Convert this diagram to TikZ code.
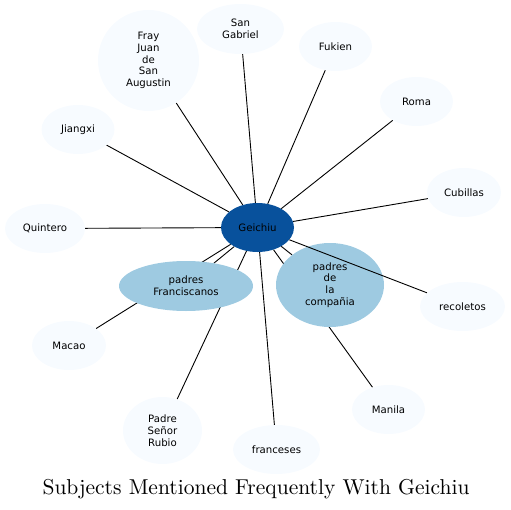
\documentclass[tikz,border=0pt]{standalone}
\usepackage{fontspec}
\newfontfamily\nodefont{DejaVu Sans}
\newfontfamily\titlefont{lmroman10-regular.otf}
\usetikzlibrary{shapes.geometric,backgrounds}

\definecolor{hubblue}{HTML}{08519C}
\definecolor{midblue}{HTML}{9ECAE1}
\definecolor{paleblue}{HTML}{F7FBFF}

\begin{document}
\begin{tikzpicture}[x=1bp, y=-1bp,
  subj/.style={ellipse, fill=#1, inner sep=0pt, align=center,
    font=\nodefont\fontsize{10.2}{11.8}\selectfont},
  link/.style={black, line width=0.9bp}]

\useasboundingbox (0,0) rectangle (510,510);

% centre and the two large groups
\node[subj=hubblue, minimum width=73bp, minimum height=49bp] (geichiu) at (257.5, 227.5) {Geichiu};
\node[subj=midblue, minimum width=134bp, minimum height=50bp] (franciscanos) at (186, 286) {padres\\Franciscanos};
\node[subj=midblue, minimum width=108bp, minimum height=84bp] (compania) at (330, 285) {padres\\de\\la\\compañia};

% outer ring
\node[subj=paleblue, minimum width=101bp, minimum height=101bp] (fray) at (148.5, 60.5) {Fray\\Juan\\de\\San\\Augustin};
\node[subj=paleblue, minimum width=87bp, minimum height=50bp] (gabriel) at (240.5, 29) {San\\Gabriel};
\node[subj=paleblue, minimum width=73bp, minimum height=49bp] (fukien) at (335.5, 46.5) {Fukien};
\node[subj=paleblue, minimum width=73bp, minimum height=49bp] (roma) at (416.5, 101.5) {Roma};
\node[subj=paleblue, minimum width=74bp, minimum height=49bp] (cubillas) at (464, 192.5) {Cubillas};
\node[subj=paleblue, minimum width=85bp, minimum height=49bp] (recoletos) at (462.5, 306.5) {recoletos};
\node[subj=paleblue, minimum width=73bp, minimum height=49bp] (manila) at (388.5, 409.5) {Manila};
\node[subj=paleblue, minimum width=87bp, minimum height=49bp] (franceses) at (276.5, 449.5) {franceses};
\node[subj=paleblue, minimum width=79bp, minimum height=67bp] (rubio) at (162.5, 430.5) {Padre\\Señor\\Rubio};
\node[subj=paleblue, minimum width=74bp, minimum height=49bp] (macao) at (69, 345.5) {Macao};
\node[subj=paleblue, minimum width=80bp, minimum height=49bp] (quintero) at (45, 228.5) {Quintero};
\node[subj=paleblue, minimum width=73bp, minimum height=49bp] (jiangxi) at (78, 129.5) {Jiangxi};

\begin{pgfonlayer}{background}
\foreach \other in {fray, gabriel, fukien, roma, cubillas, manila,
  franceses, rubio, macao, quintero, jiangxi, franciscanos, compania}
  \draw[link] (geichiu) -- (\other);
\end{pgfonlayer}
% this one runs over the compania node
\draw[link] (geichiu) -- (recoletos);

\node (title) at (256, 489) {\titlefont\fontsize{21.6}{24}\selectfont Subjects Mentioned Frequently With Geichiu};

\end{tikzpicture}
\end{document}
